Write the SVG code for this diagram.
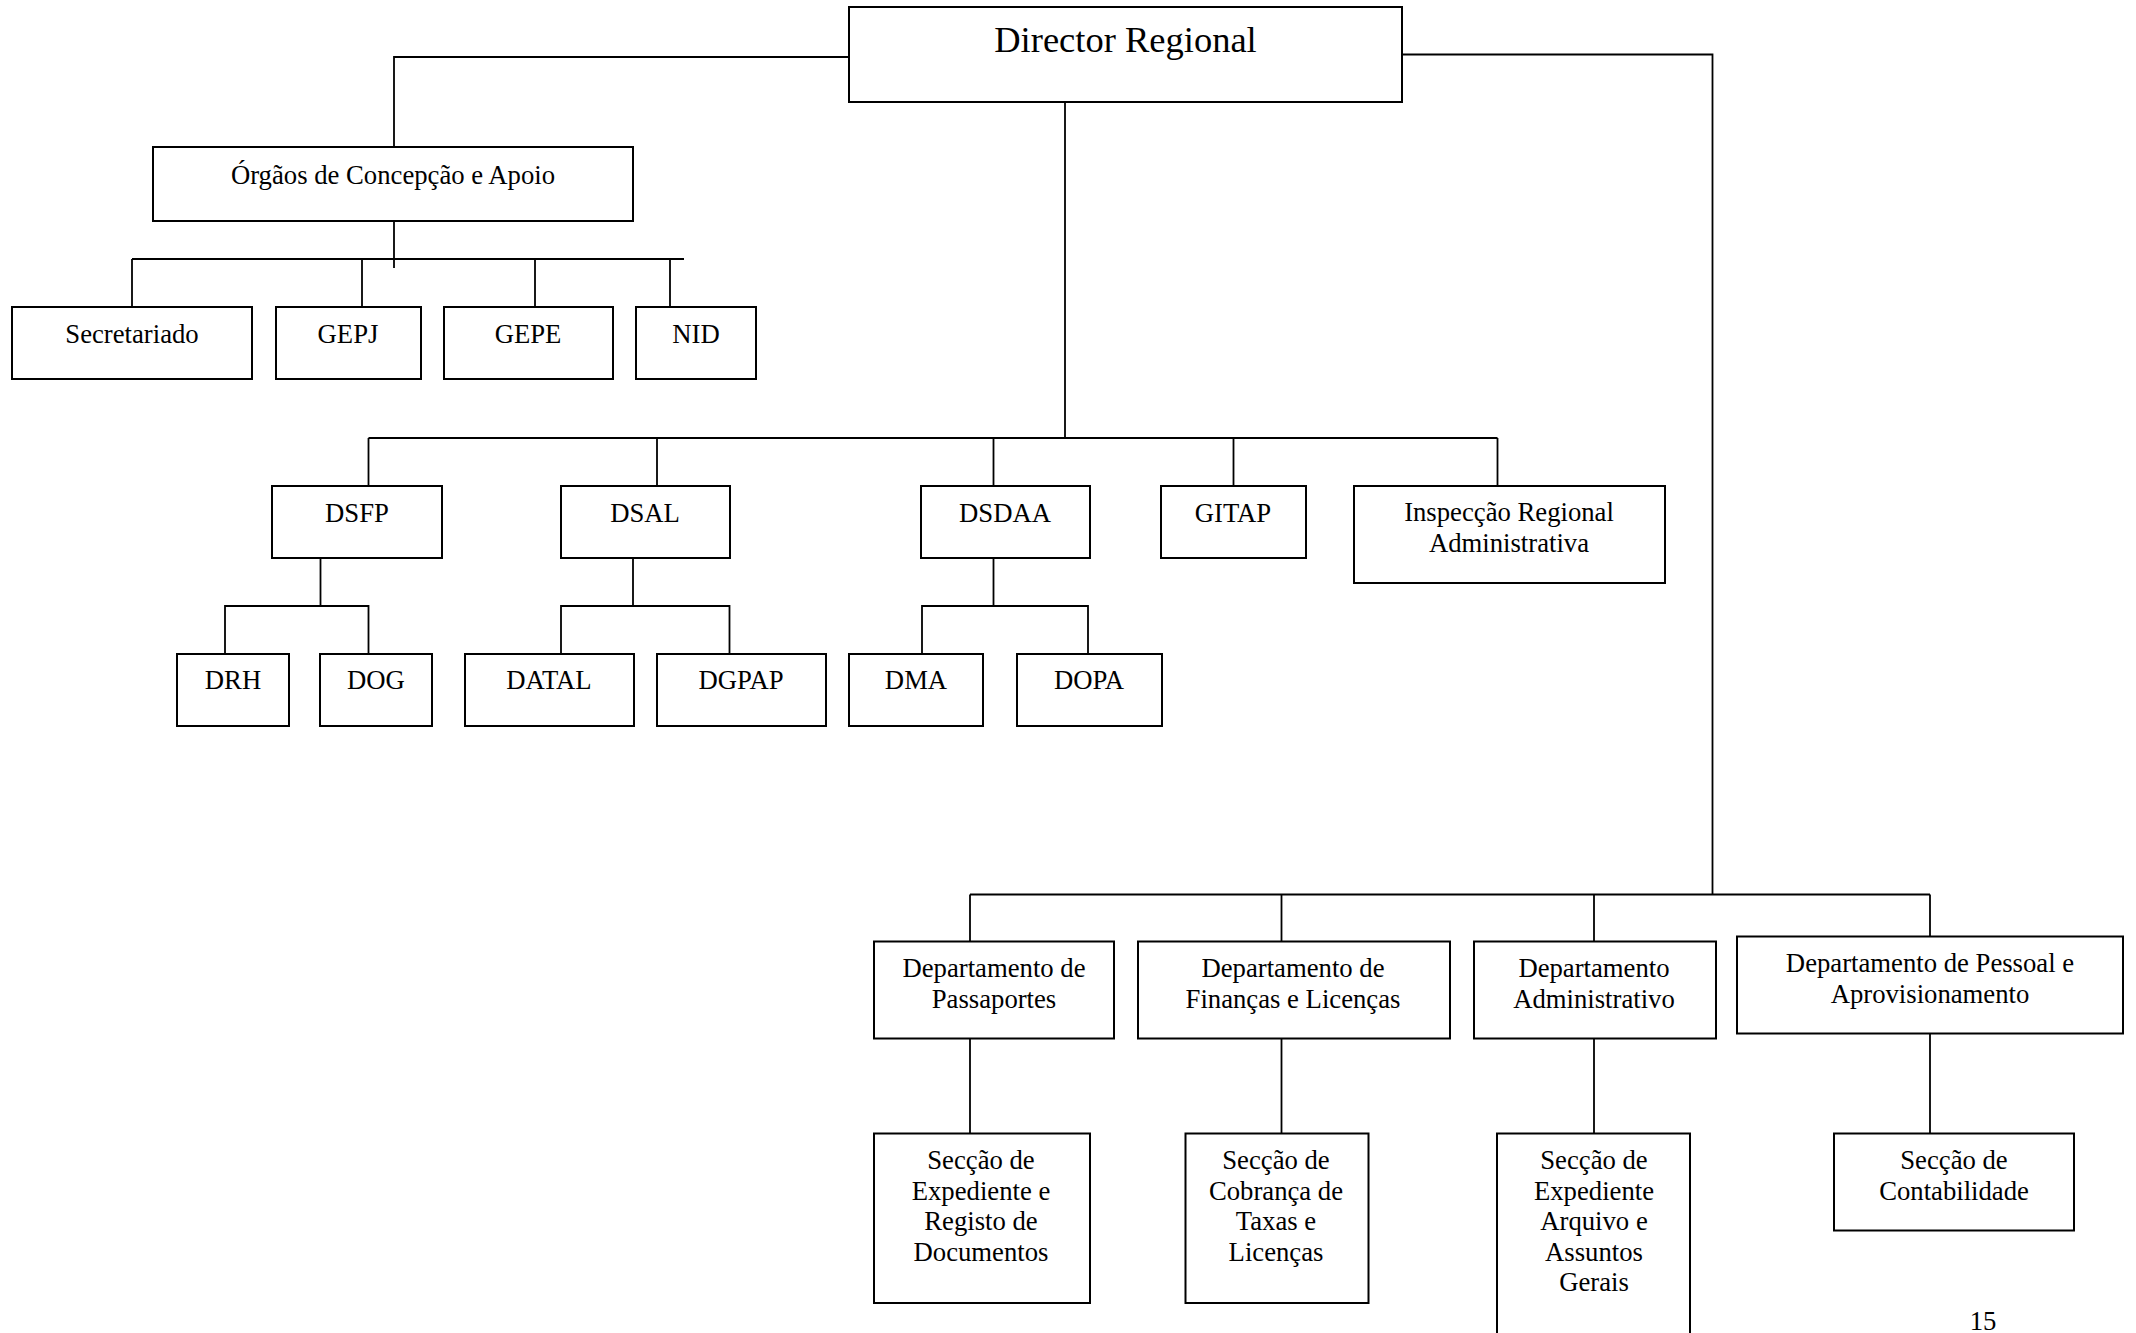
<svg xmlns="http://www.w3.org/2000/svg" width="2136" height="1333" viewBox="0 0 2136 1333">
<style>
  .box { fill: #ffffff; stroke: #000000; stroke-width: 2; }
  .con { fill: none; stroke: #000000; stroke-width: 1.8; }
  text { font-family: "Liberation Serif", "Times New Roman", serif; font-size: 26.7px; fill: #000000; text-anchor: middle; }
  .big { font-size: 36.5px; }
</style>
<rect x="0" y="0" width="2136" height="1333" fill="#ffffff"/>
<g id="connectors">
  <polyline class="con" points="849,57 394,57 394,147"/>
  <polyline class="con" points="1402,54.5 1712.5,54.5 1712.5,894.5"/>
  <line class="con" x1="1065" y1="102" x2="1065" y2="438"/>
  <line class="con" x1="394" y1="221" x2="394" y2="268"/>
  <line class="con" x1="132" y1="259" x2="684" y2="259"/>
  <line class="con" x1="132" y1="259" x2="132" y2="307"/>
  <line class="con" x1="362" y1="259" x2="362" y2="307"/>
  <line class="con" x1="535" y1="259" x2="535" y2="307"/>
  <line class="con" x1="670" y1="259" x2="670" y2="307"/>
  <line class="con" x1="368.5" y1="438" x2="1497.5" y2="438"/>
  <line class="con" x1="368.5" y1="438" x2="368.5" y2="486"/>
  <line class="con" x1="657" y1="438" x2="657" y2="486"/>
  <line class="con" x1="993.5" y1="438" x2="993.5" y2="486"/>
  <line class="con" x1="1233.5" y1="438" x2="1233.5" y2="486"/>
  <line class="con" x1="1497.5" y1="438" x2="1497.5" y2="486"/>
  <polyline class="con" points="320.5,558 320.5,606"/>
  <polyline class="con" points="225,654 225,606 368.5,606 368.5,654"/>
  <polyline class="con" points="633,558 633,606"/>
  <polyline class="con" points="561,654 561,606 729.5,606 729.5,654"/>
  <polyline class="con" points="993.5,558 993.5,606"/>
  <polyline class="con" points="922,654 922,606 1088,606 1088,654"/>
  <line class="con" x1="970" y1="894.5" x2="1930" y2="894.5"/>
  <line class="con" x1="970" y1="894.5" x2="970" y2="941.5"/>
  <line class="con" x1="1281.5" y1="894.5" x2="1281.5" y2="941.5"/>
  <line class="con" x1="1594" y1="894.5" x2="1594" y2="941.5"/>
  <line class="con" x1="1930" y1="894.5" x2="1930" y2="936.5"/>
  <line class="con" x1="970" y1="1038.5" x2="970" y2="1133.5"/>
  <line class="con" x1="1281.5" y1="1038.5" x2="1281.5" y2="1133.5"/>
  <line class="con" x1="1594" y1="1038.5" x2="1594" y2="1133.5"/>
  <line class="con" x1="1930" y1="1033.5" x2="1930" y2="1133.5"/>
</g>
<g id="director"><rect class="box" x="849" y="7" width="553" height="95"/><text class="big" x="1125.5" y="52">Director Regional</text></g>
<g id="orgaos"><rect class="box" x="153" y="147" width="480" height="74"/><text x="393" y="184">Órgãos de Concepção e Apoio</text></g>
<g id="secretariado"><rect class="box" x="12" y="307" width="240" height="72"/><text x="132" y="343">Secretariado</text></g>
<g id="gepj"><rect class="box" x="276" y="307" width="145" height="72"/><text x="348" y="343">GEPJ</text></g>
<g id="gepe"><rect class="box" x="444" y="307" width="169" height="72"/><text x="528" y="343">GEPE</text></g>
<g id="nid"><rect class="box" x="636" y="307" width="120" height="72"/><text x="696" y="343">NID</text></g>
<g id="dsfp"><rect class="box" x="272" y="486" width="170" height="72"/><text x="357" y="521.5">DSFP</text></g>
<g id="dsal"><rect class="box" x="561" y="486" width="169" height="72"/><text x="645" y="521.5">DSAL</text></g>
<g id="dsdaa"><rect class="box" x="921" y="486" width="169" height="72"/><text x="1005" y="521.5">DSDAA</text></g>
<g id="gitap"><rect class="box" x="1161" y="486" width="145" height="72"/><text x="1233" y="521.5">GITAP</text></g>
<g id="inspeccao"><rect class="box" x="1354" y="486" width="311" height="97"/><text x="1509" y="521">Inspecção Regional</text><text x="1509" y="552">Administrativa</text></g>
<g id="drh"><rect class="box" x="177" y="654" width="112" height="72"/><text x="233" y="689">DRH</text></g>
<g id="dog"><rect class="box" x="320" y="654" width="112" height="72"/><text x="376" y="689">DOG</text></g>
<g id="datal"><rect class="box" x="465" y="654" width="169" height="72"/><text x="549" y="689">DATAL</text></g>
<g id="dgpap"><rect class="box" x="657" y="654" width="169" height="72"/><text x="741" y="689">DGPAP</text></g>
<g id="dma"><rect class="box" x="849" y="654" width="134" height="72"/><text x="916" y="689">DMA</text></g>
<g id="dopa"><rect class="box" x="1017" y="654" width="145" height="72"/><text x="1089" y="689">DOPA</text></g>
<g id="dep-passaportes"><rect class="box" x="874" y="941.5" width="240" height="97"/><text x="994" y="976.5">Departamento de</text><text x="994" y="1008">Passaportes</text></g>
<g id="dep-financas"><rect class="box" x="1138" y="941.5" width="312" height="97"/><text x="1293" y="976.5">Departamento de</text><text x="1293" y="1008">Finanças e Licenças</text></g>
<g id="dep-administrativo"><rect class="box" x="1474" y="941.5" width="242" height="97"/><text x="1594" y="976.5">Departamento</text><text x="1594" y="1008">Administrativo</text></g>
<g id="dep-pessoal"><rect class="box" x="1737" y="936.5" width="386" height="97"/><text x="1930" y="972">Departamento de Pessoal e</text><text x="1930" y="1003">Aprovisionamento</text></g>
<g id="sec-expediente"><rect class="box" x="874" y="1133.5" width="216" height="169.5"/><text x="981" y="1169">Secção de</text><text x="981" y="1199.5">Expediente e</text><text x="981" y="1230">Registo de</text><text x="981" y="1260.5">Documentos</text></g>
<g id="sec-cobranca"><rect class="box" x="1185.5" y="1133.5" width="183" height="169.5"/><text x="1276" y="1169">Secção de</text><text x="1276" y="1199.5">Cobrança de</text><text x="1276" y="1230">Taxas e</text><text x="1276" y="1260.5">Licenças</text></g>
<g id="sec-arquivo"><rect class="box" x="1497" y="1133.5" width="193" height="220"/><text x="1594" y="1169">Secção de</text><text x="1594" y="1199.5">Expediente</text><text x="1594" y="1230">Arquivo e</text><text x="1594" y="1260.5">Assuntos</text><text x="1594" y="1291">Gerais</text></g>
<g id="sec-contabilidade"><rect class="box" x="1834" y="1133.5" width="240" height="97"/><text x="1954" y="1169">Secção de</text><text x="1954" y="1199.5">Contabilidade</text></g>
<text x="1983" y="1330">15</text>
</svg>
